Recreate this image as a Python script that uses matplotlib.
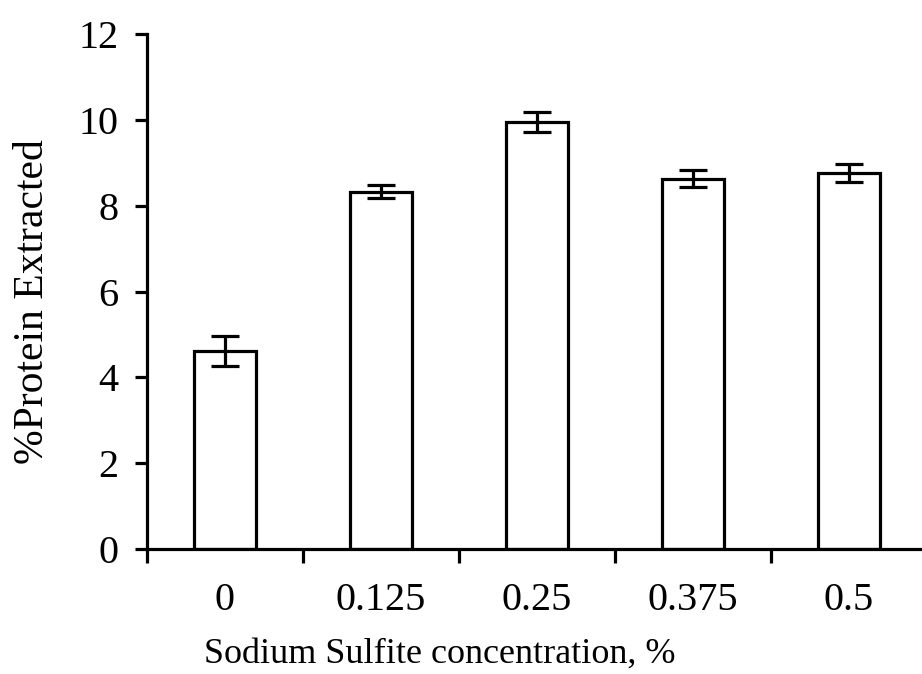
import matplotlib
matplotlib.use("Agg")
import matplotlib.pyplot as plt
import numpy as np

categories = ["0", "0.125", "0.25", "0.375", "0.5"]
values = [4.62, 8.32, 9.95, 8.63, 8.76]
errors = [0.35, 0.15, 0.23, 0.20, 0.20]
yticks = [0, 2, 4, 6, 8, 10, 12]

plt.rcParams['font.family'] = ['Liberation Serif', 'DejaVu Serif']

fig = plt.figure(figsize=(9.22, 6.74), dpi=100)
ax = fig.add_axes([147/922, 1-549/674, 775/922, 515/674])

x = np.arange(len(categories))
ax.bar(x, values, width=0.4, color='white', edgecolor='black', linewidth=2.3, zorder=2)
ax.errorbar(x, values, yerr=errors, fmt='none', ecolor='black', elinewidth=2.3,
            capsize=10, capthick=2.3, zorder=3)

ax.set_xlim(-0.5, 4.47)
ax.set_ylim(0, 12)
ax.set_yticks(yticks)
ax.set_yticklabels([str(t) for t in yticks], fontsize=29)
ax.set_xticks(x)
ax.set_xticklabels(categories, fontsize=29)
ax.set_xticks(np.arange(-0.5, 4.5, 1.0), minor=True)
ax.tick_params(axis='x', which='major', length=0, pad=24)
ax.tick_params(axis='x', which='minor', length=10, width=2.3, direction='out')
ax.tick_params(axis='y', which='major', length=8.5, width=2.3, direction='out', pad=12)

for s in ['top', 'right']:
    ax.spines[s].set_visible(False)
for s in ['left', 'bottom']:
    ax.spines[s].set_linewidth(2.3)

ax.set_xlabel("Sodium Sulfite concentration, %", fontsize=26)
ax.xaxis.set_label_coords(0.378, -0.2214)
ax.xaxis.label.set_va('baseline')
ax.set_ylabel("%Protein Extracted", fontsize=30)
ax.yaxis.set_label_coords(-0.148, 0.48)
ax.yaxis.label.set_va('center')

fig.savefig("out.png", dpi=100)
